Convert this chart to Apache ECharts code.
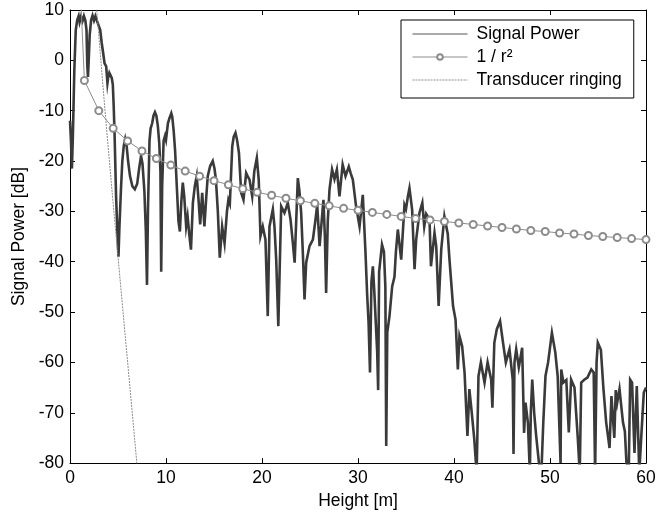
<!DOCTYPE html>
<html>
<head>
<meta charset="utf-8">
<script src="https://cdn.jsdelivr.net/npm/echarts@6/dist/echarts.min.js"></script>
<style>
html,body{margin:0;padding:0;background:#fff;}
#c{width:668px;height:515px;}
</style>
</head>
<body>
<div id="c"></div>
<script>
// Signal power [height m, dB]
var signalPower = [
[0.0,-12],[0.1,-16],[0.2,-21.5],[0.3,-15],[0.45,-2],[0.6,6],[0.75,8],[0.9,8.8],[1.0,7.6],[1.15,8.7],[1.3,7.8],[1.45,8.8],[1.6,7.9],[1.72,6],[1.8,-1],[1.87,-3.3],[1.95,0],[2.05,5],[2.2,8],[2.35,8.9],[2.5,7.9],[2.65,8.8],[2.8,7.9],[3.0,8.2],[3.15,6],[3.3,3.5],[3.45,1.5],[3.6,-0.6],[3.77,-1.2],[3.9,-4.5],[3.97,-3.5],[4.1,-2.5],[4.2,-2.7],[4.35,-3.5],[4.46,-4.8],[4.55,-9],[4.64,-14.4],[4.8,-27],[4.95,-35],[5.05,-39],[5.15,-33],[5.3,-26],[5.45,-20],[5.6,-17],[5.75,-15.6],[5.9,-17],[6.05,-20],[6.25,-23],[6.5,-25],[6.75,-25.6],[7.0,-24.5],[7.2,-21.5],[7.4,-19],[7.55,-20.5],[7.75,-26],[7.9,-34],[8.02,-44.6],[8.12,-30],[8.28,-16],[8.4,-13.5],[8.56,-12.5],[8.7,-11],[8.85,-10.3],[9.0,-11],[9.15,-13],[9.3,-16.5],[9.42,-22],[9.5,-42],[9.6,-25],[9.75,-16],[9.9,-15],[10.0,-15.8],[10.2,-12.5],[10.36,-11.5],[10.55,-10.5],[10.65,-11.2],[10.8,-14],[10.95,-18],[11.15,-26],[11.3,-32],[11.45,-34],[11.6,-28],[11.75,-24.3],[11.9,-27],[12.1,-33],[12.25,-31],[12.45,-35],[12.6,-37.6],[12.8,-28.3],[13.0,-25],[13.2,-23],[13.4,-28],[13.56,-32.6],[13.77,-26.3],[14.0,-33],[14.2,-27],[14.35,-23],[14.6,-21],[14.87,-20],[15.05,-21.5],[15.2,-23.7],[15.4,-30],[15.6,-39.2],[15.85,-33],[16.1,-36.3],[16.35,-30],[16.5,-27.7],[16.65,-28.5],[16.9,-17.1],[17.05,-15.2],[17.24,-14.4],[17.4,-15.8],[17.6,-18.4],[17.83,-26.3],[18.07,-27.7],[18.35,-22.4],[18.5,-23],[18.7,-23.7],[18.98,-27],[19.2,-22],[19.46,-19.4],[19.66,-23.7],[19.84,-34.9],[20.08,-33],[20.36,-35.6],[20.6,-50.8],[20.78,-33],[21.13,-29.6],[21.3,-33],[21.48,-39.6],[21.7,-52.8],[22.0,-29],[22.34,-30.3],[22.69,-28.3],[22.97,-31.6],[23.2,-36],[23.4,-40.2],[23.73,-23.4],[23.9,-26],[24.08,-30.3],[24.25,-38],[24.43,-47.5],[24.6,-40.2],[24.95,-36.9],[25.3,-35.6],[25.55,-32],[25.75,-28.7],[26.0,-36.9],[26.4,-27.7],[26.55,-35],[26.68,-46.2],[26.85,-32],[27.03,-25.7],[27.3,-21.7],[27.55,-23.6],[27.8,-21.7],[28.07,-27],[28.4,-20.7],[28.7,-23],[29.04,-21.1],[29.25,-22.5],[29.46,-23.7],[29.8,-29],[30.16,-33],[30.5,-26.7],[30.78,-38.2],[30.96,-46.8],[31.1,-52],[31.25,-62],[31.4,-44],[31.55,-40.9],[31.7,-46],[31.85,-52],[32.0,-58],[32.1,-65.5],[32.2,-42],[32.5,-36.6],[32.7,-38],[32.85,-45],[32.94,-76.6],[33.05,-54],[33.28,-50.8],[33.56,-44.9],[33.8,-43],[33.95,-38],[34.15,-33.6],[34.5,-39.6],[34.84,-28.7],[35.0,-29.5],[35.2,-27],[35.36,-25.4],[35.5,-27.5],[35.64,-29.7],[35.89,-41.5],[36.06,-35.6],[36.4,-30.3],[36.7,-28.3],[36.9,-33],[37.1,-30.5],[37.45,-31.6],[37.6,-40.9],[37.97,-34.3],[38.15,-37],[38.4,-48.8],[38.67,-37.6],[39.0,-31],[39.15,-32.5],[39.35,-34.5],[39.53,-39.6],[39.9,-48.8],[40.16,-51.5],[40.4,-61.4],[40.57,-54.8],[40.85,-56.8],[41.1,-62],[41.4,-74.6],[41.6,-65.3],[41.85,-70],[42.1,-75],[42.36,-82],[42.55,-62.7],[42.8,-60],[43.18,-64],[43.5,-60],[43.87,-63.4],[44.0,-69],[44.2,-56.1],[44.46,-53.4],[44.8,-51.8],[45.1,-56],[45.4,-60],[45.78,-57.4],[46.12,-63.4],[46.2,-78.2],[46.3,-60],[46.48,-57.4],[46.75,-61],[47.1,-57.1],[47.3,-74],[47.45,-68],[47.7,-72],[47.9,-82],[48.0,-70],[48.15,-63.4],[48.35,-70],[48.56,-74.6],[48.85,-80],[49.1,-82],[49.3,-72],[49.53,-62.7],[49.8,-60],[50.2,-54.1],[50.55,-58],[50.8,-62.7],[51.1,-80],[51.17,-61.4],[51.4,-64],[51.7,-63.5],[51.96,-73.9],[52.2,-63.4],[52.55,-65],[52.9,-75.2],[53.1,-82],[53.25,-64],[53.6,-63.4],[53.9,-63],[54.3,-61.4],[54.55,-62],[54.7,-82],[54.85,-60],[54.98,-56.1],[55.3,-57.5],[55.57,-65.3],[55.85,-71.9],[56.13,-75.9],[56.2,-77],[56.4,-66.7],[56.7,-75],[56.85,-65.5],[57.0,-68],[57.24,-65.3],[57.6,-71.9],[57.8,-73.7],[57.96,-79.8],[58.2,-82],[58.35,-63.4],[58.55,-64],[58.8,-78],[59.04,-64.7],[59.3,-82],[59.5,-75],[59.77,-66],[60,-65]
];
// 1 / r^2 reference curve [height m, dB]
var inverseSquare = [
[0,60],[1.5,-4.0],[3,-10.0],[4.5,-13.5],[6,-16.0],[7.5,-18.0],[9,-19.5],[10.5,-20.8],[12,-22.0],[13.5,-23.0],[15,-23.9],[16.5,-24.7],[18,-25.5],[19.5,-26.2],[21,-26.8],[22.5,-27.4],[24,-27.9],[25.5,-28.4],[27,-28.9],[28.5,-29.4],[30,-29.8],[31.5,-30.2],[33,-30.6],[34.5,-31.0],[36,-31.4],[37.5,-31.7],[39,-32.0],[40.5,-32.3],[42,-32.6],[43.5,-32.9],[45,-33.2],[46.5,-33.5],[48,-33.8],[49.5,-34.0],[51,-34.3],[52.5,-34.5],[54,-34.8],[55.5,-35.0],[57,-35.2],[58.5,-35.4],[60,-35.6]
];
// Transducer ringing [height m, dB]
var transducerRinging = [
[2.3,20],[2.79,9.8],[3.7,-11.2],[4.46,-27.7],[7.0,-80.8]
];
var xTicks = [0,10,20,30,40,50,60];
var yTicks = [-80,-70,-60,-50,-40,-30,-20,-10,0,10];

var FONT = '"Liberation Sans", Arial, Helvetica, sans-serif';
var chart = echarts.init(document.getElementById('c'), null, {renderer:'canvas'});
function axisLine(){ return {show:true, onZero:false, lineStyle:{color:'#000', width:1}}; }
function tick(){ return {show:true, inside:true, length:5, lineStyle:{color:'#000'}}; }
var inv = inverseSquare.map(function(p, i){
  return i === 0 ? {value:p, symbol:'none'} : p;
});
chart.setOption({
  animation:false,
  backgroundColor:'#fff',
  textStyle:{fontFamily:FONT},
  grid:{left:70, top:10, width:576, height:454, containLabel:false},
  legend:{
    orient:'vertical', left:401, top:20,
    backgroundColor:'#fff', borderColor:'#000', borderWidth:1, borderRadius:0,
    padding:[5,12,9,11], itemWidth:55, itemHeight:7, itemGap:5,
    textStyle:{fontSize:17.5, color:'#000', fontFamily:FONT, padding:[0,0,0,4]},
    data:[
      {name:'Signal Power', lineStyle:{width:1, color:'#555'}, itemStyle:{opacity:0}},
      {name:'1 / r²', lineStyle:{width:1}},
      {name:'Transducer ringing', lineStyle:{width:1}, itemStyle:{opacity:0}}
    ]
  },
  xAxis:[
    {type:'value', min:xTicks[0], max:xTicks[xTicks.length-1], interval:10, position:'bottom',
     name:'Height [m]', nameLocation:'middle', nameGap:25,
     nameTextStyle:{fontSize:17.5, color:'#000', fontFamily:FONT},
     axisLine:axisLine(), axisTick:tick(), splitLine:{show:false},
     axisLabel:{fontSize:17.5, color:'#000', margin:6, fontFamily:FONT}},
    {type:'value', min:xTicks[0], max:xTicks[xTicks.length-1], interval:10, position:'top',
     axisLine:axisLine(), axisTick:tick(), splitLine:{show:false}, axisLabel:{show:false}}
  ],
  yAxis:[
    {type:'value', min:yTicks[0], max:yTicks[yTicks.length-1], interval:10, position:'left',
     name:'Signal Power [dB]', nameLocation:'middle', nameGap:40, nameRotate:90,
     nameTextStyle:{fontSize:17.5, color:'#000', fontFamily:FONT},
     axisLine:axisLine(), axisTick:tick(), splitLine:{show:false},
     axisLabel:{fontSize:17.5, color:'#000', margin:6, fontFamily:FONT}},
    {type:'value', min:yTicks[0], max:yTicks[yTicks.length-1], interval:10, position:'right',
     axisLine:axisLine(), axisTick:tick(), splitLine:{show:false}, axisLabel:{show:false}}
  ],
  series:[
    {name:'Signal Power', type:'line', data:signalPower, showSymbol:false, symbol:'none',
     clip:true, lineStyle:{color:'#3a3a3a', width:2.6, join:'miter'}, itemStyle:{color:'#3a3a3a'}, z:2},
    {name:'1 / r²', type:'line', data:inv, symbol:'emptyCircle', symbolSize:7, showAllSymbol:true,
     clip:true, lineStyle:{color:'#8c8c8c', width:1}, itemStyle:{color:'#8c8c8c', borderColor:'#8c8c8c', borderWidth:1}, z:3},
    {name:'Transducer ringing', type:'line', data:transducerRinging, symbol:'none', clip:true,
     lineStyle:{color:'#8c8c8c', width:1, type:[2,1]}, itemStyle:{color:'#8c8c8c'}, z:3}
  ]
});
</script>
</body>
</html>
